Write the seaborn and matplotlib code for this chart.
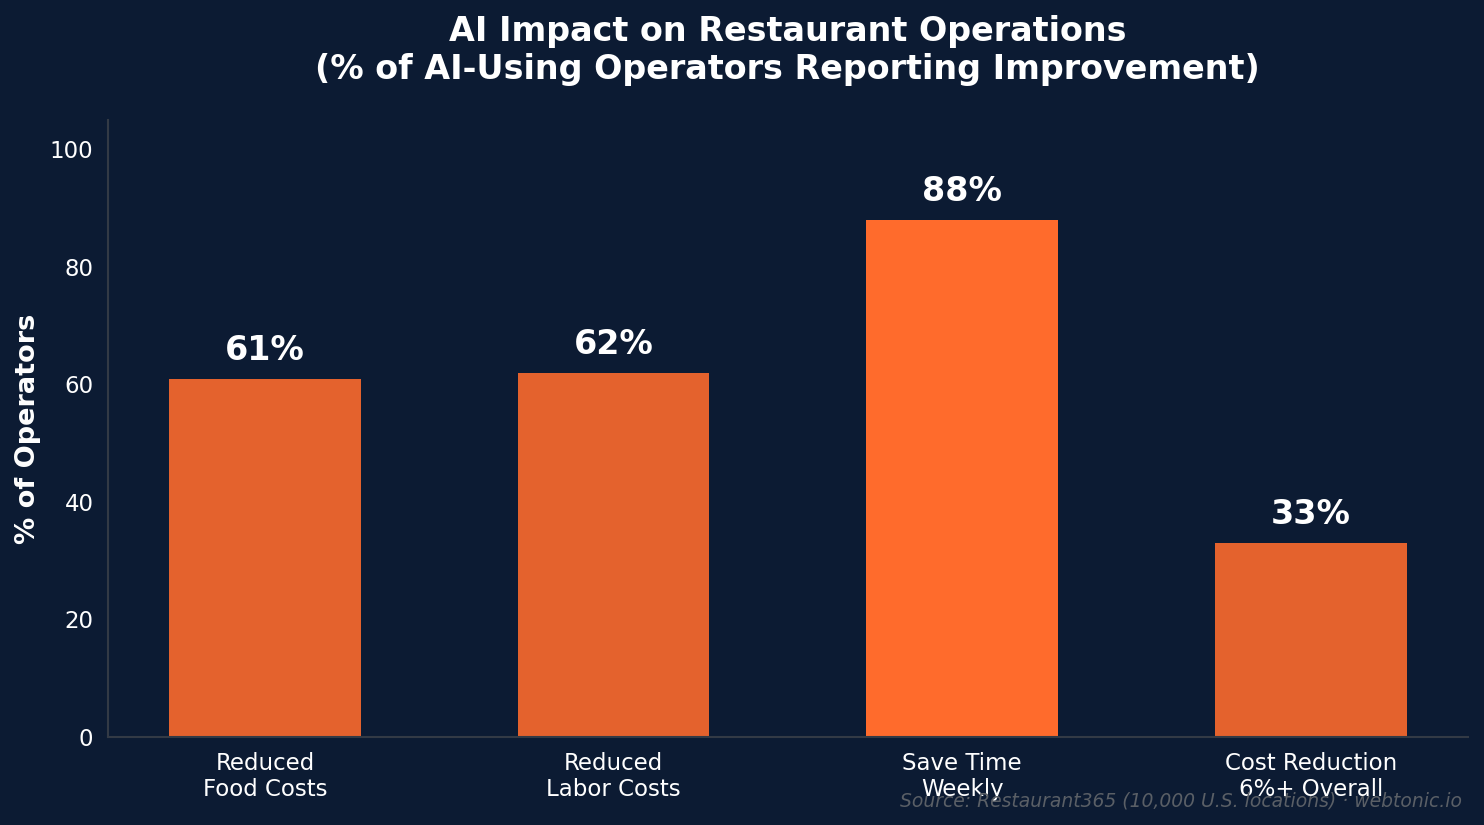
import matplotlib
matplotlib.use("Agg")
import matplotlib.pyplot as plt
import seaborn as sns
import pandas as pd

categories = ["Reduced\nFood Costs", "Reduced\nLabor Costs", "Save Time\nWeekly", "Cost Reduction\n6%+ Overall"]
values = [61, 62, 88, 33]
labels = ["61%", "62%", "88%", "33%"]
colors = ["#E4622D", "#E4622D", "#FF6B2C", "#E4622D"]

BG = "#0C1B33"
DPI = 150
sns.set_style("dark")
plt.rcParams["font.family"] = ["DejaVu Sans"]

df = pd.DataFrame({"category": categories, "value": values})

fig = plt.figure(figsize=(1484 / DPI, 825 / DPI), dpi=DPI)
fig.patch.set_facecolor(BG)
ax = fig.add_axes([0.0728, 0.1067, 0.9162, 0.7478])
ax.set_facecolor(BG)

sns.barplot(data=df, x="category", y="value", hue="category", palette=colors,
            legend=False, width=0.55, ax=ax, saturation=1, linewidth=0, edgecolor="none")

for i, (v, t) in enumerate(zip(values, labels)):
    ax.text(i, v + 2, t, ha="center", va="bottom", color="white",
            fontsize=16, fontweight="bold")

ax.set_ylim(0, 105)
ax.set_xlim(-0.45, 3.45)
ax.set_xlabel("")
ax.set_ylabel("% of Operators", color="white", fontsize=13, fontweight="bold", labelpad=4)
ax.set_title("AI Impact on Restaurant Operations\n(% of AI-Using Operators Reporting Improvement)",
             color="white", fontsize=16, fontweight="bold", pad=19.5)
ax.tick_params(axis="both", colors="#d0d3d8", labelcolor="white", labelsize=11, length=3.5, width=0.8)
ax.grid(False)
for s in ["top", "right"]:
    ax.spines[s].set_visible(False)
for s in ["left", "bottom"]:
    ax.spines[s].set_visible(True)
    ax.spines[s].set_color("#333a45")
    ax.spines[s].set_linewidth(1)

fig.text(0.985, 0.018, "Source: Restaurant365 (10,000 U.S. locations) · webtonic.io",
         ha="right", va="bottom", color="#5a5f66", fontsize=9, style="italic")

fig.savefig("out.png", dpi=DPI, facecolor=BG)
